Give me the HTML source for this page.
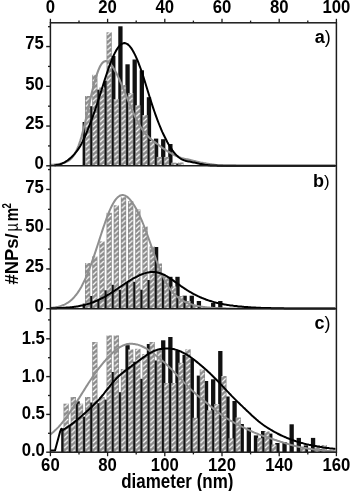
<!DOCTYPE html>
<html><head><meta charset="utf-8"><style>
html,body{margin:0;padding:0;background:#fff;}
svg{display:block;will-change:transform;}
</style></head><body>
<svg width="350" height="491" viewBox="0 0 350 491">
<rect width="350" height="491" fill="#fff"/>
<defs>
<pattern id="hatch" patternUnits="userSpaceOnUse" x="85.0" y="0" width="7.17" height="5.1">
<rect x="0" y="0" width="7.17" height="5.1" fill="#8c8c8c"/>
<line x1="0.8" y1="4.5" x2="4.5" y2="0.8" stroke="#fff" stroke-width="1.2"/>
</pattern>
<clipPath id="plot"><rect x="50.4" y="22.8" width="286.0" height="429.4"/></clipPath>
</defs>
<g clip-path="url(#plot)">
<rect x="82.60" y="122.0" width="4.3" height="43.8" fill="#111"/>
<rect x="89.73" y="106.2" width="4.3" height="59.6" fill="#111"/>
<rect x="96.87" y="89.7" width="4.3" height="76.1" fill="#111"/>
<rect x="104.00" y="80.7" width="4.3" height="85.1" fill="#111"/>
<rect x="111.14" y="56.0" width="4.3" height="109.8" fill="#111"/>
<rect x="118.27" y="26.3" width="4.3" height="139.5" fill="#111"/>
<rect x="125.41" y="64.3" width="4.3" height="101.5" fill="#111"/>
<rect x="132.54" y="59.5" width="4.3" height="106.3" fill="#111"/>
<rect x="139.68" y="70.3" width="4.3" height="95.5" fill="#111"/>
<rect x="146.81" y="97.2" width="4.3" height="68.6" fill="#111"/>
<rect x="153.95" y="138.6" width="4.3" height="27.2" fill="#111"/>
<rect x="161.08" y="139.2" width="4.3" height="26.6" fill="#111"/>
<rect x="168.22" y="144.0" width="4.3" height="21.8" fill="#111"/>
<rect x="175.35" y="163.5" width="4.3" height="2.3" fill="#111"/>
<rect x="85.00" y="96.0" width="5.3" height="69.8" fill="url(#hatch)"/>
<rect x="92.17" y="74.8" width="5.3" height="91.0" fill="url(#hatch)"/>
<rect x="99.34" y="87.5" width="5.3" height="78.3" fill="url(#hatch)"/>
<rect x="106.51" y="32.3" width="5.3" height="133.5" fill="url(#hatch)"/>
<rect x="113.68" y="99.0" width="5.3" height="66.8" fill="url(#hatch)"/>
<rect x="120.85" y="85.0" width="5.3" height="80.8" fill="url(#hatch)"/>
<rect x="128.02" y="93.0" width="5.3" height="72.8" fill="url(#hatch)"/>
<rect x="135.19" y="105.3" width="5.3" height="60.5" fill="url(#hatch)"/>
<rect x="142.36" y="115.0" width="5.3" height="50.8" fill="url(#hatch)"/>
<rect x="149.53" y="141.0" width="5.3" height="24.8" fill="url(#hatch)"/>
<rect x="156.70" y="156.9" width="5.3" height="8.9" fill="url(#hatch)"/>
<rect x="163.87" y="156.9" width="5.3" height="8.9" fill="url(#hatch)"/>
<rect x="171.04" y="162.7" width="5.3" height="3.1" fill="url(#hatch)"/>
<rect x="178.21" y="162.5" width="5.3" height="3.3" fill="url(#hatch)"/>
<rect x="82.60" y="303.6" width="4.3" height="5.1" fill="#111"/>
<rect x="89.73" y="296.0" width="4.3" height="12.7" fill="#111"/>
<rect x="96.87" y="300.7" width="4.3" height="8.0" fill="#111"/>
<rect x="104.00" y="290.3" width="4.3" height="18.4" fill="#111"/>
<rect x="111.14" y="284.8" width="4.3" height="23.9" fill="#111"/>
<rect x="118.27" y="289.7" width="4.3" height="19.0" fill="#111"/>
<rect x="125.41" y="282.4" width="4.3" height="26.3" fill="#111"/>
<rect x="132.54" y="281.8" width="4.3" height="26.9" fill="#111"/>
<rect x="139.68" y="289.7" width="4.3" height="19.0" fill="#111"/>
<rect x="146.81" y="280.0" width="4.3" height="28.7" fill="#111"/>
<rect x="153.95" y="247.0" width="4.3" height="61.7" fill="#111"/>
<rect x="161.08" y="276.8" width="4.3" height="31.9" fill="#111"/>
<rect x="168.22" y="276.8" width="4.3" height="31.9" fill="#111"/>
<rect x="175.35" y="276.8" width="4.3" height="31.9" fill="#111"/>
<rect x="182.49" y="295.7" width="4.3" height="13.0" fill="#111"/>
<rect x="189.62" y="295.7" width="4.3" height="13.0" fill="#111"/>
<rect x="196.76" y="301.0" width="4.3" height="7.7" fill="#111"/>
<rect x="211.03" y="303.0" width="4.3" height="5.7" fill="#111"/>
<rect x="218.16" y="301.0" width="4.3" height="7.7" fill="#111"/>
<rect x="85.00" y="263.0" width="5.3" height="45.7" fill="url(#hatch)"/>
<rect x="92.17" y="256.4" width="5.3" height="52.3" fill="url(#hatch)"/>
<rect x="99.34" y="241.4" width="5.3" height="67.3" fill="url(#hatch)"/>
<rect x="106.51" y="212.8" width="5.3" height="95.9" fill="url(#hatch)"/>
<rect x="113.68" y="205.3" width="5.3" height="103.4" fill="url(#hatch)"/>
<rect x="120.85" y="197.2" width="5.3" height="111.5" fill="url(#hatch)"/>
<rect x="128.02" y="201.2" width="5.3" height="107.5" fill="url(#hatch)"/>
<rect x="135.19" y="209.5" width="5.3" height="99.2" fill="url(#hatch)"/>
<rect x="142.36" y="226.5" width="5.3" height="82.2" fill="url(#hatch)"/>
<rect x="149.53" y="246.5" width="5.3" height="62.2" fill="url(#hatch)"/>
<rect x="156.70" y="263.5" width="5.3" height="45.2" fill="url(#hatch)"/>
<rect x="163.87" y="277.0" width="5.3" height="31.7" fill="url(#hatch)"/>
<rect x="171.04" y="286.5" width="5.3" height="22.2" fill="url(#hatch)"/>
<rect x="178.21" y="296.0" width="5.3" height="12.7" fill="url(#hatch)"/>
<rect x="185.38" y="301.0" width="5.3" height="7.7" fill="url(#hatch)"/>
<rect x="192.55" y="305.0" width="5.3" height="3.7" fill="url(#hatch)"/>
<rect x="61.19" y="428.3" width="4.3" height="23.9" fill="#111"/>
<rect x="68.33" y="425.0" width="4.3" height="27.2" fill="#111"/>
<rect x="75.46" y="401.3" width="4.3" height="50.9" fill="#111"/>
<rect x="82.60" y="416.6" width="4.3" height="35.6" fill="#111"/>
<rect x="89.73" y="402.5" width="4.3" height="49.7" fill="#111"/>
<rect x="96.87" y="403.2" width="4.3" height="49.0" fill="#111"/>
<rect x="104.00" y="399.6" width="4.3" height="52.6" fill="#111"/>
<rect x="111.14" y="372.0" width="4.3" height="80.2" fill="#111"/>
<rect x="118.27" y="392.2" width="4.3" height="60.0" fill="#111"/>
<rect x="125.41" y="345.2" width="4.3" height="107.0" fill="#111"/>
<rect x="132.54" y="361.7" width="4.3" height="90.5" fill="#111"/>
<rect x="139.68" y="378.8" width="4.3" height="73.4" fill="#111"/>
<rect x="146.81" y="344.0" width="4.3" height="108.2" fill="#111"/>
<rect x="153.95" y="360.5" width="4.3" height="91.7" fill="#111"/>
<rect x="161.08" y="340.3" width="4.3" height="111.9" fill="#111"/>
<rect x="168.22" y="337.0" width="4.3" height="115.2" fill="#111"/>
<rect x="175.35" y="350.6" width="4.3" height="101.6" fill="#111"/>
<rect x="182.49" y="354.8" width="4.3" height="97.4" fill="#111"/>
<rect x="189.62" y="358.5" width="4.3" height="93.7" fill="#111"/>
<rect x="196.76" y="375.6" width="4.3" height="76.6" fill="#111"/>
<rect x="203.89" y="381.0" width="4.3" height="71.2" fill="#111"/>
<rect x="211.03" y="379.3" width="4.3" height="72.9" fill="#111"/>
<rect x="218.16" y="351.0" width="4.3" height="101.2" fill="#111"/>
<rect x="225.30" y="396.5" width="4.3" height="55.7" fill="#111"/>
<rect x="232.44" y="401.0" width="4.3" height="51.2" fill="#111"/>
<rect x="239.57" y="424.0" width="4.3" height="28.2" fill="#111"/>
<rect x="246.70" y="427.6" width="4.3" height="24.6" fill="#111"/>
<rect x="253.84" y="435.4" width="4.3" height="16.8" fill="#111"/>
<rect x="260.98" y="431.0" width="4.3" height="21.2" fill="#111"/>
<rect x="268.11" y="433.6" width="4.3" height="18.6" fill="#111"/>
<rect x="275.25" y="443.0" width="4.3" height="9.2" fill="#111"/>
<rect x="282.38" y="442.0" width="4.3" height="10.2" fill="#111"/>
<rect x="289.51" y="424.3" width="4.3" height="27.9" fill="#111"/>
<rect x="296.65" y="437.9" width="4.3" height="14.3" fill="#111"/>
<rect x="303.78" y="445.4" width="4.3" height="6.8" fill="#111"/>
<rect x="310.92" y="437.9" width="4.3" height="14.3" fill="#111"/>
<rect x="318.05" y="449.0" width="4.3" height="3.2" fill="#111"/>
<rect x="63.49" y="403.7" width="5.3" height="48.5" fill="url(#hatch)"/>
<rect x="70.66" y="397.0" width="5.3" height="55.2" fill="url(#hatch)"/>
<rect x="77.83" y="403.7" width="5.3" height="48.5" fill="url(#hatch)"/>
<rect x="85.00" y="397.0" width="5.3" height="55.2" fill="url(#hatch)"/>
<rect x="92.17" y="342.0" width="5.3" height="110.2" fill="url(#hatch)"/>
<rect x="99.34" y="397.0" width="5.3" height="55.2" fill="url(#hatch)"/>
<rect x="106.51" y="335.4" width="5.3" height="116.8" fill="url(#hatch)"/>
<rect x="113.68" y="335.4" width="5.3" height="116.8" fill="url(#hatch)"/>
<rect x="120.85" y="369.0" width="5.3" height="83.2" fill="url(#hatch)"/>
<rect x="128.02" y="349.4" width="5.3" height="102.8" fill="url(#hatch)"/>
<rect x="135.19" y="348.8" width="5.3" height="103.4" fill="url(#hatch)"/>
<rect x="142.36" y="354.0" width="5.3" height="98.2" fill="url(#hatch)"/>
<rect x="149.53" y="342.0" width="5.3" height="110.2" fill="url(#hatch)"/>
<rect x="156.70" y="350.0" width="5.3" height="102.2" fill="url(#hatch)"/>
<rect x="163.87" y="383.0" width="5.3" height="69.2" fill="url(#hatch)"/>
<rect x="171.04" y="383.0" width="5.3" height="69.2" fill="url(#hatch)"/>
<rect x="178.21" y="362.8" width="5.3" height="89.4" fill="url(#hatch)"/>
<rect x="185.38" y="349.3" width="5.3" height="102.9" fill="url(#hatch)"/>
<rect x="192.55" y="417.8" width="5.3" height="34.4" fill="url(#hatch)"/>
<rect x="199.72" y="369.5" width="5.3" height="82.7" fill="url(#hatch)"/>
<rect x="206.89" y="410.2" width="5.3" height="42.0" fill="url(#hatch)"/>
<rect x="214.06" y="404.0" width="5.3" height="48.2" fill="url(#hatch)"/>
<rect x="221.23" y="376.0" width="5.3" height="76.2" fill="url(#hatch)"/>
<rect x="228.40" y="438.3" width="5.3" height="13.9" fill="url(#hatch)"/>
<rect x="235.57" y="417.5" width="5.3" height="34.7" fill="url(#hatch)"/>
<rect x="257.08" y="437.8" width="5.3" height="14.4" fill="url(#hatch)"/>
<rect x="264.25" y="431.4" width="5.3" height="20.8" fill="url(#hatch)"/>
<rect x="271.42" y="444.5" width="5.3" height="7.7" fill="url(#hatch)"/>
<rect x="300.10" y="448.0" width="5.3" height="4.2" fill="url(#hatch)"/>
<rect x="314.44" y="445.0" width="5.3" height="7.2" fill="url(#hatch)"/>
<rect x="321.61" y="445.0" width="5.3" height="7.2" fill="url(#hatch)"/>
<rect x="328.78" y="450.3" width="5.3" height="1.9" fill="url(#hatch)"/>
<path d="M50.4,165.0 L51.4,164.9 L52.4,164.8 L53.4,164.7 L54.4,164.6 L55.4,164.5 L56.4,164.4 L57.4,164.3 L58.4,164.2 L59.4,164.0 L60.4,163.8 L61.4,163.6 L62.4,163.3 L63.4,163.0 L64.4,162.7 L65.4,162.3 L66.4,161.9 L67.4,161.4 L68.4,160.8 L69.4,160.1 L70.4,159.3 L71.4,158.3 L72.4,157.2 L73.4,155.9 L74.4,154.4 L75.4,152.6 L76.4,150.7 L77.4,148.5 L78.4,146.1 L79.4,143.3 L80.4,140.3 L81.4,137.0 L82.4,133.4 L83.4,129.6 L84.4,125.5 L85.4,121.2 L86.4,116.8 L87.4,112.3 L88.4,107.8 L89.4,103.3 L90.4,98.9 L91.4,94.6 L92.4,90.4 L93.4,86.4 L94.4,82.6 L95.4,79.1 L96.4,75.8 L97.4,72.8 L98.4,70.2 L99.4,67.8 L100.4,65.8 L101.4,64.2 L102.4,62.9 L103.4,62.0 L104.4,61.4 L105.4,61.1 L106.4,61.1 L107.4,61.5 L108.4,62.0 L109.4,62.8 L110.4,63.8 L111.4,65.1 L112.4,66.4 L113.4,68.0 L114.4,69.7 L115.4,71.4 L116.4,73.3 L117.4,75.3 L118.4,77.4 L119.4,79.5 L120.4,81.8 L121.4,84.1 L122.4,86.4 L123.4,88.8 L124.4,91.2 L125.4,93.7 L126.4,96.2 L127.4,98.6 L128.4,101.1 L129.4,103.6 L130.4,106.0 L131.4,108.4 L132.4,110.7 L133.4,112.9 L134.4,115.1 L135.4,117.2 L136.4,119.3 L137.4,121.2 L138.4,123.1 L139.4,124.8 L140.4,126.5 L141.4,128.1 L142.4,129.6 L143.4,131.0 L144.4,132.3 L145.4,133.6 L146.4,134.7 L147.4,135.8 L148.4,136.8 L149.4,137.7 L150.4,138.6 L151.4,139.5 L152.4,140.3 L153.4,141.1 L154.4,141.8 L155.4,142.6 L156.4,143.3 L157.4,144.0 L158.4,144.8 L159.4,145.6 L160.4,146.3 L161.4,147.1 L162.4,147.8 L163.4,148.5 L164.4,149.2 L165.4,149.9 L166.4,150.5 L167.4,151.2 L168.4,151.8 L169.4,152.3 L170.4,152.9 L171.4,153.4 L172.4,154.0 L173.4,154.5 L174.4,155.0 L175.4,155.5 L176.4,156.0 L177.4,156.4 L178.4,156.9 L179.4,157.3 L180.4,157.6 L181.4,158.0 L182.4,158.3 L183.4,158.5 L184.4,158.8 L185.4,159.0 L186.4,159.2 L187.4,159.4 L188.4,159.6 L189.4,159.8 L190.4,160.0 L191.4,160.3 L192.4,160.5 L193.4,160.8 L194.4,161.0 L195.4,161.3 L196.4,161.6 L197.4,161.8 L198.4,162.0 L199.4,162.2 L200.4,162.5 L201.4,162.7 L202.4,162.9 L203.4,163.1 L204.4,163.2 L205.4,163.4 L206.4,163.6 L207.4,163.7 L208.4,163.9 L209.4,164.0 L210.4,164.2 L211.4,164.3 L212.4,164.5 L213.4,164.6 L214.4,164.7 L215.4,164.9 L216.4,165.0 L217.4,165.1 L218.4,165.2 L219.4,165.3 L220.4,165.3 L221.4,165.4 L222.4,165.4 L223.4,165.5 L224.4,165.5 L225.4,165.5 L226.4,165.6 L227.4,165.6 L228.4,165.6 L229.4,165.6 L230.4,165.6 L231.4,165.6 L232.4,165.6 L233.4,165.6 L234.4,165.6 L235.4,165.6 L236.4,165.7 L237.4,165.7 L238.4,165.7 L239.4,165.7 L240.4,165.7 L241.4,165.7 L242.4,165.7 L243.4,165.7 L244.4,165.7 L245.4,165.7 L246.4,165.7 L247.4,165.7 L248.4,165.7 L249.4,165.7 L250.4,165.7 L251.4,165.7 L252.4,165.7 L253.4,165.7 L254.4,165.7 L255.4,165.7 L256.4,165.7 L257.4,165.7 L258.4,165.7 L259.4,165.7 L260.4,165.7 L261.4,165.7 L262.4,165.7 L263.4,165.7 L264.4,165.7 L265.4,165.7 L266.4,165.7 L267.4,165.7 L268.4,165.7 L269.4,165.7 L270.4,165.7 L271.4,165.7 L272.4,165.7 L273.4,165.7 L274.4,165.7 L275.4,165.7 L276.4,165.7 L277.4,165.7 L278.4,165.7 L279.4,165.7 L280.4,165.7 L281.4,165.7 L282.4,165.7 L283.4,165.7 L284.4,165.7 L285.4,165.7 L286.4,165.7 L287.4,165.7 L288.4,165.7 L289.4,165.7 L290.4,165.7 L291.4,165.7 L292.4,165.7 L293.4,165.7 L294.4,165.7 L295.4,165.7 L296.4,165.7 L297.4,165.7 L298.4,165.7 L299.4,165.7 L300.4,165.7 L301.4,165.7 L302.4,165.7 L303.4,165.7 L304.4,165.7 L305.4,165.7 L306.4,165.7 L307.4,165.7 L308.4,165.7 L309.4,165.7 L310.4,165.7 L311.4,165.7 L312.4,165.7 L313.4,165.7 L314.4,165.7 L315.4,165.7 L316.4,165.7 L317.4,165.7 L318.4,165.7 L319.4,165.7 L320.4,165.7 L321.4,165.7 L322.4,165.7 L323.4,165.7 L324.4,165.7 L325.4,165.7 L326.4,165.7 L327.4,165.7 L328.4,165.7 L329.4,165.7 L330.4,165.7 L331.4,165.7 L332.4,165.7 L333.4,165.7 L334.4,165.7 L335.4,165.7" fill="none" stroke="#8f8f8f" stroke-width="2.1" stroke-linejoin="round"/>
<path d="M54.4,165.3 L55.4,165.2 L56.4,165.1 L57.4,165.0 L58.4,164.7 L59.4,164.5 L60.4,164.2 L61.4,163.8 L62.4,163.4 L63.4,162.9 L64.4,162.4 L65.4,161.8 L66.4,161.1 L67.4,160.5 L68.4,159.7 L69.4,158.9 L70.4,158.1 L71.4,157.2 L72.4,156.2 L73.4,155.2 L74.4,154.1 L75.4,152.9 L76.4,151.7 L77.4,150.4 L78.4,148.9 L79.4,147.4 L80.4,145.7 L81.4,143.9 L82.4,142.0 L83.4,139.9 L84.4,137.8 L85.4,135.5 L86.4,133.2 L87.4,130.7 L88.4,128.2 L89.4,125.7 L90.4,123.1 L91.4,120.4 L92.4,117.7 L93.4,114.9 L94.4,112.0 L95.4,109.1 L96.4,106.1 L97.4,103.0 L98.4,99.9 L99.4,96.8 L100.4,93.6 L101.4,90.4 L102.4,87.2 L103.4,84.0 L104.4,80.9 L105.4,77.8 L106.4,74.7 L107.4,71.7 L108.4,68.8 L109.4,66.0 L110.4,63.3 L111.4,60.8 L112.4,58.3 L113.4,56.0 L114.4,53.9 L115.4,51.9 L116.4,50.1 L117.4,48.5 L118.4,47.1 L119.4,45.9 L120.4,44.9 L121.4,44.1 L122.4,43.6 L123.4,43.3 L124.4,43.1 L125.4,43.3 L126.4,43.6 L127.4,44.1 L128.4,44.9 L129.4,45.9 L130.4,47.1 L131.4,48.4 L132.4,50.0 L133.4,51.7 L134.4,53.6 L135.4,55.6 L136.4,57.8 L137.4,60.2 L138.4,62.7 L139.4,65.3 L140.4,68.0 L141.4,70.9 L142.4,73.9 L143.4,76.9 L144.4,80.1 L145.4,83.2 L146.4,86.5 L147.4,89.7 L148.4,93.0 L149.4,96.2 L150.4,99.4 L151.4,102.5 L152.4,105.6 L153.4,108.6 L154.4,111.5 L155.4,114.4 L156.4,117.2 L157.4,119.9 L158.4,122.5 L159.4,125.0 L160.4,127.4 L161.4,129.8 L162.4,132.1 L163.4,134.2 L164.4,136.3 L165.4,138.3 L166.4,140.3 L167.4,142.2 L168.4,144.0 L169.4,145.7 L170.4,147.4 L171.4,148.9 L172.4,150.4 L173.4,151.7 L174.4,153.0 L175.4,154.1 L176.4,155.2 L177.4,156.1 L178.4,157.0 L179.4,157.8 L180.4,158.5 L181.4,159.1 L182.4,159.6 L183.4,160.0 L184.4,160.4 L185.4,160.7 L186.4,161.0 L187.4,161.2 L188.4,161.4 L189.4,161.6 L190.4,161.8 L191.4,162.0 L192.4,162.2 L193.4,162.4 L194.4,162.6 L195.4,162.8 L196.4,163.0 L197.4,163.2 L198.4,163.4 L199.4,163.7 L200.4,163.9 L201.4,164.1 L202.4,164.3 L203.4,164.5 L204.4,164.7 L205.4,164.9 L206.4,165.0 L207.4,165.1 L208.4,165.2 L209.4,165.3 L210.4,165.4 L211.4,165.5 L212.4,165.5 L213.4,165.6 L214.4,165.6 L215.4,165.6 L216.4,165.6 L217.4,165.7 L218.4,165.7 L219.4,165.7 L220.4,165.7 L221.4,165.7 L222.4,165.7 L223.4,165.7 L224.4,165.7 L225.4,165.7 L226.4,165.7 L227.4,165.7 L228.4,165.7 L229.4,165.7 L230.4,165.7 L231.4,165.7 L232.4,165.7 L233.4,165.7 L234.4,165.7 L235.4,165.7 L236.4,165.7 L237.4,165.7 L238.4,165.7 L239.4,165.7 L240.4,165.7 L241.4,165.7 L242.4,165.7 L243.4,165.7 L244.4,165.7 L245.4,165.7 L246.4,165.7 L247.4,165.7 L248.4,165.7 L249.4,165.7 L250.4,165.7 L251.4,165.7 L252.4,165.7 L253.4,165.7 L254.4,165.7 L255.4,165.7 L256.4,165.7 L257.4,165.7 L258.4,165.7 L259.4,165.7 L260.4,165.7 L261.4,165.7 L262.4,165.7 L263.4,165.7 L264.4,165.7 L265.4,165.7 L266.4,165.7 L267.4,165.7 L268.4,165.7 L269.4,165.7 L270.4,165.7 L271.4,165.7 L272.4,165.7 L273.4,165.7 L274.4,165.7 L275.4,165.7 L276.4,165.7 L277.4,165.7 L278.4,165.7 L279.4,165.7 L280.4,165.7 L281.4,165.7 L282.4,165.7 L283.4,165.7 L284.4,165.7 L285.4,165.7 L286.4,165.7 L287.4,165.7 L288.4,165.7 L289.4,165.7 L290.4,165.7 L291.4,165.7 L292.4,165.7 L293.4,165.7 L294.4,165.7 L295.4,165.7 L296.4,165.7 L297.4,165.7 L298.4,165.7 L299.4,165.7 L300.4,165.7 L301.4,165.7 L302.4,165.7 L303.4,165.7 L304.4,165.7 L305.4,165.7 L306.4,165.7 L307.4,165.7 L308.4,165.7 L309.4,165.7 L310.4,165.7 L311.4,165.7 L312.4,165.7 L313.4,165.7 L314.4,165.7 L315.4,165.7 L316.4,165.7 L317.4,165.7 L318.4,165.7 L319.4,165.7 L320.4,165.7 L321.4,165.7 L322.4,165.7 L323.4,165.7 L324.4,165.7 L325.4,165.7 L326.4,165.7 L327.4,165.7 L328.4,165.7 L329.4,165.7 L330.4,165.7 L331.4,165.7 L332.4,165.7 L333.4,165.7 L334.4,165.7 L335.4,165.7" fill="none" stroke="#000" stroke-width="2.0" stroke-linejoin="round"/>
<path d="M50.4,307.9 L51.4,307.8 L52.4,307.7 L53.4,307.6 L54.4,307.4 L55.4,307.3 L56.4,307.1 L57.4,306.9 L58.4,306.7 L59.4,306.4 L60.4,306.1 L61.4,305.8 L62.4,305.4 L63.4,305.0 L64.4,304.6 L65.4,304.1 L66.4,303.5 L67.4,302.9 L68.4,302.3 L69.4,301.6 L70.4,300.8 L71.4,299.9 L72.4,299.0 L73.4,298.0 L74.4,296.9 L75.4,295.7 L76.4,294.5 L77.4,293.1 L78.4,291.6 L79.4,290.1 L80.4,288.4 L81.4,286.7 L82.4,284.8 L83.4,282.8 L84.4,280.8 L85.4,278.6 L86.4,276.3 L87.4,273.9 L88.4,271.5 L89.4,268.9 L90.4,266.2 L91.4,263.5 L92.4,260.7 L93.4,257.8 L94.4,254.9 L95.4,251.9 L96.4,248.9 L97.4,245.8 L98.4,242.7 L99.4,239.6 L100.4,236.5 L101.4,233.5 L102.4,230.4 L103.4,227.4 L104.4,224.5 L105.4,221.7 L106.4,218.9 L107.4,216.2 L108.4,213.7 L109.4,211.2 L110.4,208.9 L111.4,206.8 L112.4,204.8 L113.4,203.0 L114.4,201.4 L115.4,199.9 L116.4,198.6 L117.4,197.6 L118.4,196.7 L119.4,196.0 L120.4,195.5 L121.4,195.2 L122.4,195.1 L123.4,195.1 L124.4,195.4 L125.4,195.8 L126.4,196.3 L127.4,197.1 L128.4,197.9 L129.4,198.9 L130.4,200.1 L131.4,201.4 L132.4,202.7 L133.4,204.2 L134.4,205.8 L135.4,207.5 L136.4,209.3 L137.4,211.2 L138.4,213.2 L139.4,215.3 L140.4,217.4 L141.4,219.7 L142.4,222.0 L143.4,224.5 L144.4,227.0 L145.4,229.6 L146.4,232.2 L147.4,235.0 L148.4,237.8 L149.4,240.6 L150.4,243.4 L151.4,246.3 L152.4,249.2 L153.4,252.1 L154.4,254.9 L155.4,257.7 L156.4,260.5 L157.4,263.2 L158.4,265.8 L159.4,268.4 L160.4,270.9 L161.4,273.2 L162.4,275.5 L163.4,277.6 L164.4,279.6 L165.4,281.6 L166.4,283.4 L167.4,285.1 L168.4,286.7 L169.4,288.2 L170.4,289.5 L171.4,290.8 L172.4,292.0 L173.4,293.2 L174.4,294.2 L175.4,295.2 L176.4,296.1 L177.4,296.9 L178.4,297.7 L179.4,298.5 L180.4,299.2 L181.4,299.8 L182.4,300.4 L183.4,300.9 L184.4,301.5 L185.4,302.0 L186.4,302.4 L187.4,302.9 L188.4,303.3 L189.4,303.6 L190.4,304.0 L191.4,304.3 L192.4,304.6 L193.4,304.9 L194.4,305.2 L195.4,305.5 L196.4,305.7 L197.4,305.9 L198.4,306.1 L199.4,306.3 L200.4,306.5 L201.4,306.7 L202.4,306.8 L203.4,307.0 L204.4,307.1 L205.4,307.2 L206.4,307.3 L207.4,307.4 L208.4,307.5 L209.4,307.6 L210.4,307.7 L211.4,307.8 L212.4,307.8 L213.4,307.9 L214.4,308.0 L215.4,308.0 L216.4,308.1 L217.4,308.1 L218.4,308.2 L219.4,308.2 L220.4,308.2 L221.4,308.3 L222.4,308.3 L223.4,308.3 L224.4,308.3 L225.4,308.3 L226.4,308.4 L227.4,308.4 L228.4,308.4 L229.4,308.4 L230.4,308.4 L231.4,308.4 L232.4,308.4 L233.4,308.4 L234.4,308.5 L235.4,308.5 L236.4,308.5 L237.4,308.5 L238.4,308.5 L239.4,308.5 L240.4,308.5 L241.4,308.5 L242.4,308.5 L243.4,308.5 L244.4,308.5 L245.4,308.5 L246.4,308.5 L247.4,308.5 L248.4,308.5 L249.4,308.5 L250.4,308.5 L251.4,308.5 L252.4,308.5 L253.4,308.5 L254.4,308.5 L255.4,308.5 L256.4,308.5 L257.4,308.5 L258.4,308.5 L259.4,308.5 L260.4,308.5 L261.4,308.5 L262.4,308.5 L263.4,308.5 L264.4,308.5 L265.4,308.5 L266.4,308.5 L267.4,308.5 L268.4,308.5 L269.4,308.5 L270.4,308.5 L271.4,308.5 L272.4,308.5 L273.4,308.5 L274.4,308.5 L275.4,308.5 L276.4,308.5 L277.4,308.5 L278.4,308.5 L279.4,308.5 L280.4,308.5 L281.4,308.5 L282.4,308.5 L283.4,308.5 L284.4,308.5 L285.4,308.5 L286.4,308.5 L287.4,308.5 L288.4,308.5 L289.4,308.5 L290.4,308.5 L291.4,308.5 L292.4,308.5 L293.4,308.5 L294.4,308.5 L295.4,308.5 L296.4,308.5 L297.4,308.5 L298.4,308.5 L299.4,308.5 L300.4,308.5 L301.4,308.5 L302.4,308.5 L303.4,308.5 L304.4,308.5 L305.4,308.5 L306.4,308.5 L307.4,308.5 L308.4,308.5 L309.4,308.5 L310.4,308.5 L311.4,308.5 L312.4,308.5 L313.4,308.5 L314.4,308.5 L315.4,308.5 L316.4,308.5 L317.4,308.5 L318.4,308.5 L319.4,308.5 L320.4,308.5 L321.4,308.5 L322.4,308.5 L323.4,308.5 L324.4,308.5 L325.4,308.5 L326.4,308.5 L327.4,308.5 L328.4,308.5 L329.4,308.5 L330.4,308.5 L331.4,308.5 L332.4,308.5 L333.4,308.5 L334.4,308.5 L335.4,308.5" fill="none" stroke="#8f8f8f" stroke-width="2.0" stroke-linejoin="round"/>
<path d="M50.4,308.3 L51.4,308.3 L52.4,308.3 L53.4,308.3 L54.4,308.2 L55.4,308.2 L56.4,308.2 L57.4,308.1 L58.4,308.1 L59.4,308.0 L60.4,308.0 L61.4,308.0 L62.4,307.9 L63.4,307.8 L64.4,307.8 L65.4,307.7 L66.4,307.6 L67.4,307.6 L68.4,307.5 L69.4,307.4 L70.4,307.3 L71.4,307.2 L72.4,307.1 L73.4,306.9 L74.4,306.8 L75.4,306.7 L76.4,306.5 L77.4,306.4 L78.4,306.2 L79.4,306.0 L80.4,305.8 L81.4,305.6 L82.4,305.4 L83.4,305.2 L84.4,304.9 L85.4,304.7 L86.4,304.4 L87.4,304.1 L88.4,303.8 L89.4,303.5 L90.4,303.2 L91.4,302.8 L92.4,302.5 L93.4,302.1 L94.4,301.7 L95.4,301.3 L96.4,300.9 L97.4,300.5 L98.4,300.0 L99.4,299.5 L100.4,299.0 L101.4,298.5 L102.4,298.0 L103.4,297.5 L104.4,296.9 L105.4,296.4 L106.4,295.8 L107.4,295.2 L108.4,294.6 L109.4,294.0 L110.4,293.4 L111.4,292.7 L112.4,292.1 L113.4,291.4 L114.4,290.8 L115.4,290.1 L116.4,289.4 L117.4,288.8 L118.4,288.1 L119.4,287.4 L120.4,286.7 L121.4,286.1 L122.4,285.4 L123.4,284.7 L124.4,284.0 L125.4,283.4 L126.4,282.7 L127.4,282.1 L128.4,281.4 L129.4,280.8 L130.4,280.2 L131.4,279.6 L132.4,279.0 L133.4,278.4 L134.4,277.8 L135.4,277.3 L136.4,276.8 L137.4,276.3 L138.4,275.8 L139.4,275.3 L140.4,274.9 L141.4,274.5 L142.4,274.1 L143.4,273.7 L144.4,273.4 L145.4,273.1 L146.4,272.8 L147.4,272.6 L148.4,272.4 L149.4,272.2 L150.4,272.1 L151.4,272.0 L152.4,272.0 L153.4,272.0 L154.4,272.0 L155.4,272.1 L156.4,272.3 L157.4,272.5 L158.4,272.7 L159.4,273.0 L160.4,273.3 L161.4,273.7 L162.4,274.1 L163.4,274.5 L164.4,275.0 L165.4,275.5 L166.4,276.1 L167.4,276.7 L168.4,277.3 L169.4,277.9 L170.4,278.6 L171.4,279.3 L172.4,279.9 L173.4,280.6 L174.4,281.4 L175.4,282.1 L176.4,282.8 L177.4,283.5 L178.4,284.2 L179.4,284.9 L180.4,285.7 L181.4,286.4 L182.4,287.1 L183.4,287.7 L184.4,288.4 L185.4,289.1 L186.4,289.7 L187.4,290.4 L188.4,291.0 L189.4,291.6 L190.4,292.2 L191.4,292.7 L192.4,293.3 L193.4,293.9 L194.4,294.4 L195.4,294.9 L196.4,295.4 L197.4,295.9 L198.4,296.4 L199.4,296.8 L200.4,297.3 L201.4,297.7 L202.4,298.1 L203.4,298.5 L204.4,298.9 L205.4,299.3 L206.4,299.7 L207.4,300.0 L208.4,300.4 L209.4,300.7 L210.4,301.0 L211.4,301.3 L212.4,301.6 L213.4,301.9 L214.4,302.2 L215.4,302.4 L216.4,302.7 L217.4,302.9 L218.4,303.2 L219.4,303.4 L220.4,303.6 L221.4,303.8 L222.4,304.0 L223.4,304.2 L224.4,304.4 L225.4,304.6 L226.4,304.7 L227.4,304.9 L228.4,305.1 L229.4,305.2 L230.4,305.4 L231.4,305.5 L232.4,305.6 L233.4,305.8 L234.4,305.9 L235.4,306.0 L236.4,306.1 L237.4,306.2 L238.4,306.4 L239.4,306.5 L240.4,306.6 L241.4,306.6 L242.4,306.7 L243.4,306.8 L244.4,306.9 L245.4,307.0 L246.4,307.1 L247.4,307.1 L248.4,307.2 L249.4,307.3 L250.4,307.3 L251.4,307.4 L252.4,307.4 L253.4,307.5 L254.4,307.6 L255.4,307.6 L256.4,307.7 L257.4,307.7 L258.4,307.7 L259.4,307.8 L260.4,307.8 L261.4,307.9 L262.4,307.9 L263.4,307.9 L264.4,308.0 L265.4,308.0 L266.4,308.0 L267.4,308.1 L268.4,308.1 L269.4,308.1 L270.4,308.1 L271.4,308.2 L272.4,308.2 L273.4,308.2 L274.4,308.2 L275.4,308.2 L276.4,308.3 L277.4,308.3 L278.4,308.3 L279.4,308.3 L280.4,308.3 L281.4,308.3 L282.4,308.3 L283.4,308.3 L284.4,308.4 L285.4,308.4 L286.4,308.4 L287.4,308.4 L288.4,308.4 L289.4,308.4 L290.4,308.4 L291.4,308.4 L292.4,308.4 L293.4,308.4 L294.4,308.4 L295.4,308.4 L296.4,308.4 L297.4,308.4 L298.4,308.5 L299.4,308.5 L300.4,308.5 L301.4,308.5 L302.4,308.5 L303.4,308.5 L304.4,308.5 L305.4,308.5 L306.4,308.5 L307.4,308.5 L308.4,308.5 L309.4,308.5 L310.4,308.5 L311.4,308.5 L312.4,308.5 L313.4,308.5 L314.4,308.5 L315.4,308.5 L316.4,308.5 L317.4,308.5 L318.4,308.5 L319.4,308.5 L320.4,308.5 L321.4,308.5 L322.4,308.5 L323.4,308.5 L324.4,308.5 L325.4,308.5 L326.4,308.5 L327.4,308.5 L328.4,308.5 L329.4,308.5 L330.4,308.5 L331.4,308.5 L332.4,308.5 L333.4,308.5 L334.4,308.5 L335.4,308.5" fill="none" stroke="#000" stroke-width="2.0" stroke-linejoin="round"/>
<path d="M50.4,434.5 L51.4,433.6 L52.4,432.8 L53.4,431.9 L54.4,431.0 L55.4,430.1 L56.4,429.1 L57.4,428.1 L58.4,427.1 L59.4,426.0 L60.4,424.8 L61.4,423.7 L62.4,422.5 L63.4,421.2 L64.4,419.9 L65.4,418.6 L66.4,417.2 L67.4,415.8 L68.4,414.4 L69.4,413.0 L70.4,411.5 L71.4,410.0 L72.4,408.5 L73.4,407.0 L74.4,405.4 L75.4,403.9 L76.4,402.3 L77.4,400.7 L78.4,399.1 L79.4,397.6 L80.4,396.0 L81.4,394.4 L82.4,392.8 L83.4,391.2 L84.4,389.6 L85.4,388.0 L86.4,386.4 L87.4,384.9 L88.4,383.3 L89.4,381.7 L90.4,380.2 L91.4,378.7 L92.4,377.2 L93.4,375.8 L94.4,374.3 L95.4,372.9 L96.4,371.6 L97.4,370.2 L98.4,368.9 L99.4,367.6 L100.4,366.4 L101.4,365.1 L102.4,363.9 L103.4,362.7 L104.4,361.5 L105.4,360.4 L106.4,359.2 L107.4,358.1 L108.4,357.0 L109.4,356.0 L110.4,355.0 L111.4,354.0 L112.4,353.0 L113.4,352.1 L114.4,351.2 L115.4,350.3 L116.4,349.5 L117.4,348.8 L118.4,348.1 L119.4,347.4 L120.4,346.8 L121.4,346.3 L122.4,345.8 L123.4,345.4 L124.4,345.0 L125.4,344.6 L126.4,344.3 L127.4,344.1 L128.4,344.0 L129.4,343.8 L130.4,343.8 L131.4,343.8 L132.4,343.8 L133.4,343.9 L134.4,344.0 L135.4,344.2 L136.4,344.4 L137.4,344.6 L138.4,344.9 L139.4,345.3 L140.4,345.6 L141.4,346.0 L142.4,346.5 L143.4,347.0 L144.4,347.5 L145.4,348.0 L146.4,348.6 L147.4,349.2 L148.4,349.9 L149.4,350.6 L150.4,351.3 L151.4,352.0 L152.4,352.7 L153.4,353.5 L154.4,354.3 L155.4,355.1 L156.4,355.9 L157.4,356.7 L158.4,357.5 L159.4,358.3 L160.4,359.2 L161.4,360.0 L162.4,360.9 L163.4,361.7 L164.4,362.6 L165.4,363.5 L166.4,364.4 L167.4,365.3 L168.4,366.2 L169.4,367.2 L170.4,368.2 L171.4,369.1 L172.4,370.2 L173.4,371.2 L174.4,372.2 L175.4,373.3 L176.4,374.4 L177.4,375.4 L178.4,376.5 L179.4,377.6 L180.4,378.6 L181.4,379.7 L182.4,380.8 L183.4,381.8 L184.4,382.9 L185.4,383.9 L186.4,384.9 L187.4,386.0 L188.4,387.0 L189.4,387.9 L190.4,388.9 L191.4,389.9 L192.4,390.8 L193.4,391.7 L194.4,392.6 L195.4,393.5 L196.4,394.4 L197.4,395.3 L198.4,396.1 L199.4,396.9 L200.4,397.8 L201.4,398.6 L202.4,399.4 L203.4,400.3 L204.4,401.1 L205.4,401.9 L206.4,402.7 L207.4,403.6 L208.4,404.4 L209.4,405.2 L210.4,406.1 L211.4,406.9 L212.4,407.7 L213.4,408.6 L214.4,409.4 L215.4,410.2 L216.4,411.0 L217.4,411.8 L218.4,412.6 L219.4,413.3 L220.4,414.1 L221.4,414.8 L222.4,415.5 L223.4,416.2 L224.4,416.9 L225.4,417.6 L226.4,418.2 L227.4,418.8 L228.4,419.4 L229.4,420.0 L230.4,420.6 L231.4,421.2 L232.4,421.7 L233.4,422.2 L234.4,422.8 L235.4,423.3 L236.4,423.8 L237.4,424.4 L238.4,424.9 L239.4,425.4 L240.4,425.9 L241.4,426.4 L242.4,426.9 L243.4,427.4 L244.4,427.9 L245.4,428.4 L246.4,428.9 L247.4,429.3 L248.4,429.8 L249.4,430.3 L250.4,430.8 L251.4,431.2 L252.4,431.7 L253.4,432.1 L254.4,432.6 L255.4,433.0 L256.4,433.4 L257.4,433.8 L258.4,434.2 L259.4,434.6 L260.4,434.9 L261.4,435.3 L262.4,435.6 L263.4,436.0 L264.4,436.3 L265.4,436.6 L266.4,437.0 L267.4,437.3 L268.4,437.6 L269.4,438.0 L270.4,438.3 L271.4,438.6 L272.4,439.0 L273.4,439.3 L274.4,439.7 L275.4,440.0 L276.4,440.3 L277.4,440.7 L278.4,441.0 L279.4,441.3 L280.4,441.7 L281.4,442.0 L282.4,442.3 L283.4,442.6 L284.4,442.9 L285.4,443.2 L286.4,443.5 L287.4,443.8 L288.4,444.1 L289.4,444.4 L290.4,444.7 L291.4,445.0 L292.4,445.2 L293.4,445.5 L294.4,445.7 L295.4,446.0 L296.4,446.2 L297.4,446.5 L298.4,446.7 L299.4,446.9 L300.4,447.2 L301.4,447.4 L302.4,447.6 L303.4,447.8 L304.4,448.0 L305.4,448.1 L306.4,448.3 L307.4,448.5 L308.4,448.7 L309.4,448.8 L310.4,449.0 L311.4,449.1 L312.4,449.3 L313.4,449.4 L314.4,449.6 L315.4,449.7 L316.4,449.8 L317.4,449.9 L318.4,450.1 L319.4,450.2 L320.4,450.3 L321.4,450.4 L322.4,450.5 L323.4,450.6 L324.4,450.6 L325.4,450.7 L326.4,450.8 L327.4,450.9 L328.4,451.0 L329.4,451.0 L330.4,451.1 L331.4,451.2 L332.4,451.2 L333.4,451.3 L334.4,451.3 L335.4,451.4" fill="none" stroke="#8f8f8f" stroke-width="2.0" stroke-linejoin="round"/>
<path d="M50.4,450.6 L55.0,450.6 L60.0,432.0 L61.3,428.8 L62.4,430.3 L63.4,429.7 L64.4,429.1 L65.4,428.5 L66.4,427.8 L67.4,427.2 L68.4,426.5 L69.4,425.8 L70.4,425.1 L71.4,424.4 L72.4,423.6 L73.4,422.9 L74.4,422.1 L75.4,421.3 L76.4,420.5 L77.4,419.6 L78.4,418.8 L79.4,417.9 L80.4,417.1 L81.4,416.2 L82.4,415.3 L83.4,414.4 L84.4,413.6 L85.4,412.7 L86.4,411.8 L87.4,410.8 L88.4,409.9 L89.4,409.0 L90.4,408.1 L91.4,407.2 L92.4,406.2 L93.4,405.3 L94.4,404.3 L95.4,403.3 L96.4,402.3 L97.4,401.3 L98.4,400.2 L99.4,399.1 L100.4,397.9 L101.4,396.7 L102.4,395.5 L103.4,394.3 L104.4,393.0 L105.4,391.7 L106.4,390.4 L107.4,389.1 L108.4,387.8 L109.4,386.6 L110.4,385.3 L111.4,384.1 L112.4,382.9 L113.4,381.8 L114.4,380.6 L115.4,379.6 L116.4,378.5 L117.4,377.5 L118.4,376.5 L119.4,375.6 L120.4,374.7 L121.4,373.8 L122.4,373.0 L123.4,372.2 L124.4,371.4 L125.4,370.6 L126.4,369.9 L127.4,369.1 L128.4,368.4 L129.4,367.6 L130.4,366.9 L131.4,366.2 L132.4,365.4 L133.4,364.7 L134.4,364.0 L135.4,363.2 L136.4,362.5 L137.4,361.8 L138.4,361.0 L139.4,360.3 L140.4,359.6 L141.4,358.8 L142.4,358.1 L143.4,357.4 L144.4,356.7 L145.4,356.0 L146.4,355.3 L147.4,354.6 L148.4,354.0 L149.4,353.4 L150.4,352.8 L151.4,352.3 L152.4,351.8 L153.4,351.3 L154.4,350.9 L155.4,350.5 L156.4,350.1 L157.4,349.8 L158.4,349.5 L159.4,349.3 L160.4,349.1 L161.4,348.9 L162.4,348.7 L163.4,348.6 L164.4,348.5 L165.4,348.4 L166.4,348.4 L167.4,348.4 L168.4,348.4 L169.4,348.5 L170.4,348.6 L171.4,348.7 L172.4,348.9 L173.4,349.1 L174.4,349.3 L175.4,349.6 L176.4,349.9 L177.4,350.2 L178.4,350.6 L179.4,351.0 L180.4,351.4 L181.4,351.8 L182.4,352.3 L183.4,352.8 L184.4,353.3 L185.4,353.9 L186.4,354.4 L187.4,355.1 L188.4,355.7 L189.4,356.3 L190.4,357.0 L191.4,357.7 L192.4,358.5 L193.4,359.2 L194.4,360.0 L195.4,360.8 L196.4,361.6 L197.4,362.4 L198.4,363.2 L199.4,364.0 L200.4,364.9 L201.4,365.7 L202.4,366.6 L203.4,367.4 L204.4,368.3 L205.4,369.2 L206.4,370.1 L207.4,371.0 L208.4,371.9 L209.4,372.8 L210.4,373.8 L211.4,374.7 L212.4,375.7 L213.4,376.7 L214.4,377.7 L215.4,378.7 L216.4,379.7 L217.4,380.7 L218.4,381.8 L219.4,382.8 L220.4,383.9 L221.4,384.9 L222.4,386.0 L223.4,387.1 L224.4,388.2 L225.4,389.2 L226.4,390.3 L227.4,391.4 L228.4,392.4 L229.4,393.5 L230.4,394.5 L231.4,395.6 L232.4,396.6 L233.4,397.6 L234.4,398.6 L235.4,399.6 L236.4,400.6 L237.4,401.6 L238.4,402.6 L239.4,403.5 L240.4,404.5 L241.4,405.4 L242.4,406.4 L243.4,407.4 L244.4,408.3 L245.4,409.3 L246.4,410.2 L247.4,411.2 L248.4,412.1 L249.4,413.1 L250.4,414.0 L251.4,415.0 L252.4,415.9 L253.4,416.8 L254.4,417.7 L255.4,418.6 L256.4,419.5 L257.4,420.3 L258.4,421.2 L259.4,422.0 L260.4,422.8 L261.4,423.5 L262.4,424.3 L263.4,425.0 L264.4,425.7 L265.4,426.4 L266.4,427.0 L267.4,427.7 L268.4,428.3 L269.4,428.9 L270.4,429.5 L271.4,430.1 L272.4,430.7 L273.4,431.3 L274.4,431.9 L275.4,432.4 L276.4,432.9 L277.4,433.5 L278.4,434.0 L279.4,434.5 L280.4,435.0 L281.4,435.5 L282.4,435.9 L283.4,436.4 L284.4,436.8 L285.4,437.2 L286.4,437.7 L287.4,438.1 L288.4,438.5 L289.4,438.9 L290.4,439.3 L291.4,439.6 L292.4,440.0 L293.4,440.3 L294.4,440.7 L295.4,441.0 L296.4,441.4 L297.4,441.7 L298.4,442.0 L299.4,442.3 L300.4,442.6 L301.4,442.9 L302.4,443.1 L303.4,443.4 L304.4,443.7 L305.4,443.9 L306.4,444.2 L307.4,444.4 L308.4,444.6 L309.4,444.9 L310.4,445.1 L311.4,445.3 L312.4,445.5 L313.4,445.7 L314.4,445.9 L315.4,446.1 L316.4,446.3 L317.4,446.5 L318.4,446.6 L319.4,446.8 L320.4,447.0 L321.4,447.1 L322.4,447.3 L323.4,447.4 L324.4,447.6 L325.4,447.7 L326.4,447.9 L327.4,448.0 L328.4,448.1 L329.4,448.3 L330.4,448.4 L331.4,448.5 L332.4,448.6 L333.4,448.7 L334.4,448.8 L335.4,448.9" fill="none" stroke="#000" stroke-width="2.0" stroke-linejoin="round"/>
</g>
<rect x="50.4" y="22.8" width="286.0" height="429.4" fill="none" stroke="#1c1c1c" stroke-width="1.5"/>
<line x1="50.4" y1="165.8" x2="336.4" y2="165.8" stroke="#1c1c1c" stroke-width="1.5"/>
<line x1="50.4" y1="308.7" x2="336.4" y2="308.7" stroke="#1c1c1c" stroke-width="1.5"/>
<line x1="50.40" y1="22.8" x2="50.40" y2="18.8" stroke="#1c1c1c" stroke-width="1.3"/>
<line x1="50.40" y1="452.2" x2="50.40" y2="456.2" stroke="#1c1c1c" stroke-width="1.3"/>
<line x1="79.00" y1="22.8" x2="79.00" y2="20.6" stroke="#1c1c1c" stroke-width="1.3"/>
<line x1="79.00" y1="452.2" x2="79.00" y2="454.4" stroke="#1c1c1c" stroke-width="1.3"/>
<line x1="107.60" y1="22.8" x2="107.60" y2="18.8" stroke="#1c1c1c" stroke-width="1.3"/>
<line x1="107.60" y1="452.2" x2="107.60" y2="456.2" stroke="#1c1c1c" stroke-width="1.3"/>
<line x1="136.20" y1="22.8" x2="136.20" y2="20.6" stroke="#1c1c1c" stroke-width="1.3"/>
<line x1="136.20" y1="452.2" x2="136.20" y2="454.4" stroke="#1c1c1c" stroke-width="1.3"/>
<line x1="164.80" y1="22.8" x2="164.80" y2="18.8" stroke="#1c1c1c" stroke-width="1.3"/>
<line x1="164.80" y1="452.2" x2="164.80" y2="456.2" stroke="#1c1c1c" stroke-width="1.3"/>
<line x1="193.40" y1="22.8" x2="193.40" y2="20.6" stroke="#1c1c1c" stroke-width="1.3"/>
<line x1="193.40" y1="452.2" x2="193.40" y2="454.4" stroke="#1c1c1c" stroke-width="1.3"/>
<line x1="222.00" y1="22.8" x2="222.00" y2="18.8" stroke="#1c1c1c" stroke-width="1.3"/>
<line x1="222.00" y1="452.2" x2="222.00" y2="456.2" stroke="#1c1c1c" stroke-width="1.3"/>
<line x1="250.60" y1="22.8" x2="250.60" y2="20.6" stroke="#1c1c1c" stroke-width="1.3"/>
<line x1="250.60" y1="452.2" x2="250.60" y2="454.4" stroke="#1c1c1c" stroke-width="1.3"/>
<line x1="279.20" y1="22.8" x2="279.20" y2="18.8" stroke="#1c1c1c" stroke-width="1.3"/>
<line x1="279.20" y1="452.2" x2="279.20" y2="456.2" stroke="#1c1c1c" stroke-width="1.3"/>
<line x1="307.80" y1="22.8" x2="307.80" y2="20.6" stroke="#1c1c1c" stroke-width="1.3"/>
<line x1="307.80" y1="452.2" x2="307.80" y2="454.4" stroke="#1c1c1c" stroke-width="1.3"/>
<line x1="336.40" y1="22.8" x2="336.40" y2="18.8" stroke="#1c1c1c" stroke-width="1.3"/>
<line x1="336.40" y1="452.2" x2="336.40" y2="456.2" stroke="#1c1c1c" stroke-width="1.3"/>
<line x1="50.4" y1="165.80" x2="46.199999999999996" y2="165.80" stroke="#1c1c1c" stroke-width="1.4"/>
<line x1="50.4" y1="126.05" x2="46.199999999999996" y2="126.05" stroke="#1c1c1c" stroke-width="1.4"/>
<line x1="50.4" y1="86.30" x2="46.199999999999996" y2="86.30" stroke="#1c1c1c" stroke-width="1.4"/>
<line x1="50.4" y1="46.55" x2="46.199999999999996" y2="46.55" stroke="#1c1c1c" stroke-width="1.4"/>
<line x1="50.4" y1="145.93" x2="48.0" y2="145.93" stroke="#1c1c1c" stroke-width="1.3"/>
<line x1="50.4" y1="106.18" x2="48.0" y2="106.18" stroke="#1c1c1c" stroke-width="1.3"/>
<line x1="50.4" y1="66.43" x2="48.0" y2="66.43" stroke="#1c1c1c" stroke-width="1.3"/>
<line x1="50.4" y1="26.68" x2="48.0" y2="26.68" stroke="#1c1c1c" stroke-width="1.3"/>
<line x1="50.4" y1="308.70" x2="46.199999999999996" y2="308.70" stroke="#1c1c1c" stroke-width="1.4"/>
<line x1="50.4" y1="268.95" x2="46.199999999999996" y2="268.95" stroke="#1c1c1c" stroke-width="1.4"/>
<line x1="50.4" y1="229.20" x2="46.199999999999996" y2="229.20" stroke="#1c1c1c" stroke-width="1.4"/>
<line x1="50.4" y1="189.45" x2="46.199999999999996" y2="189.45" stroke="#1c1c1c" stroke-width="1.4"/>
<line x1="50.4" y1="288.82" x2="48.0" y2="288.82" stroke="#1c1c1c" stroke-width="1.3"/>
<line x1="50.4" y1="249.07" x2="48.0" y2="249.07" stroke="#1c1c1c" stroke-width="1.3"/>
<line x1="50.4" y1="209.32" x2="48.0" y2="209.32" stroke="#1c1c1c" stroke-width="1.3"/>
<line x1="50.4" y1="169.57" x2="48.0" y2="169.57" stroke="#1c1c1c" stroke-width="1.3"/>
<line x1="50.4" y1="452.20" x2="46.199999999999996" y2="452.20" stroke="#1c1c1c" stroke-width="1.4"/>
<line x1="50.4" y1="414.40" x2="46.199999999999996" y2="414.40" stroke="#1c1c1c" stroke-width="1.4"/>
<line x1="50.4" y1="376.60" x2="46.199999999999996" y2="376.60" stroke="#1c1c1c" stroke-width="1.4"/>
<line x1="50.4" y1="338.80" x2="46.199999999999996" y2="338.80" stroke="#1c1c1c" stroke-width="1.4"/>
<line x1="50.4" y1="433.30" x2="48.0" y2="433.30" stroke="#1c1c1c" stroke-width="1.3"/>
<line x1="50.4" y1="395.50" x2="48.0" y2="395.50" stroke="#1c1c1c" stroke-width="1.3"/>
<line x1="50.4" y1="357.70" x2="48.0" y2="357.70" stroke="#1c1c1c" stroke-width="1.3"/>
<line x1="50.4" y1="319.90" x2="48.0" y2="319.90" stroke="#1c1c1c" stroke-width="1.3"/>
<text transform="translate(50.40,13.3) scale(0.92,1)" text-anchor="middle" font-family="Liberation Sans, sans-serif" font-weight="bold" font-size="18.2">0</text>
<text transform="translate(107.60,13.3) scale(0.92,1)" text-anchor="middle" font-family="Liberation Sans, sans-serif" font-weight="bold" font-size="18.2">20</text>
<text transform="translate(164.80,13.3) scale(0.92,1)" text-anchor="middle" font-family="Liberation Sans, sans-serif" font-weight="bold" font-size="18.2">40</text>
<text transform="translate(222.00,13.3) scale(0.92,1)" text-anchor="middle" font-family="Liberation Sans, sans-serif" font-weight="bold" font-size="18.2">60</text>
<text transform="translate(279.20,13.3) scale(0.92,1)" text-anchor="middle" font-family="Liberation Sans, sans-serif" font-weight="bold" font-size="18.2">80</text>
<text transform="translate(336.40,13.3) scale(0.92,1)" text-anchor="middle" font-family="Liberation Sans, sans-serif" font-weight="bold" font-size="18.2">100</text>
<text transform="translate(50.40,471.3) scale(0.92,1)" text-anchor="middle" font-family="Liberation Sans, sans-serif" font-weight="bold" font-size="18.2">60</text>
<text transform="translate(107.60,471.3) scale(0.92,1)" text-anchor="middle" font-family="Liberation Sans, sans-serif" font-weight="bold" font-size="18.2">80</text>
<text transform="translate(164.80,471.3) scale(0.92,1)" text-anchor="middle" font-family="Liberation Sans, sans-serif" font-weight="bold" font-size="18.2">100</text>
<text transform="translate(222.00,471.3) scale(0.92,1)" text-anchor="middle" font-family="Liberation Sans, sans-serif" font-weight="bold" font-size="18.2">120</text>
<text transform="translate(279.20,471.3) scale(0.92,1)" text-anchor="middle" font-family="Liberation Sans, sans-serif" font-weight="bold" font-size="18.2">140</text>
<text transform="translate(336.40,471.3) scale(0.92,1)" text-anchor="middle" font-family="Liberation Sans, sans-serif" font-weight="bold" font-size="18.2">160</text>
<text transform="translate(43.9,169.1) scale(0.92,1)" text-anchor="end" font-family="Liberation Sans, sans-serif" font-weight="bold" font-size="18.2">0</text>
<text transform="translate(43.9,129.2) scale(0.92,1)" text-anchor="end" font-family="Liberation Sans, sans-serif" font-weight="bold" font-size="18.2">25</text>
<text transform="translate(43.9,89.60000000000001) scale(0.92,1)" text-anchor="end" font-family="Liberation Sans, sans-serif" font-weight="bold" font-size="18.2">50</text>
<text transform="translate(43.9,49.300000000000004) scale(0.92,1)" text-anchor="end" font-family="Liberation Sans, sans-serif" font-weight="bold" font-size="18.2">75</text>
<text transform="translate(43.9,311.59999999999997) scale(0.92,1)" text-anchor="end" font-family="Liberation Sans, sans-serif" font-weight="bold" font-size="18.2">0</text>
<text transform="translate(43.9,272.2) scale(0.92,1)" text-anchor="end" font-family="Liberation Sans, sans-serif" font-weight="bold" font-size="18.2">25</text>
<text transform="translate(43.9,232.29999999999998) scale(0.92,1)" text-anchor="end" font-family="Liberation Sans, sans-serif" font-weight="bold" font-size="18.2">50</text>
<text transform="translate(43.9,192.7) scale(0.92,1)" text-anchor="end" font-family="Liberation Sans, sans-serif" font-weight="bold" font-size="18.2">75</text>
<text transform="translate(44.9,455.59999999999997) scale(0.92,1)" text-anchor="end" font-family="Liberation Sans, sans-serif" font-weight="bold" font-size="18.2">0.0</text>
<text transform="translate(44.9,418.9) scale(0.92,1)" text-anchor="end" font-family="Liberation Sans, sans-serif" font-weight="bold" font-size="18.2">0.5</text>
<text transform="translate(44.9,381.9) scale(0.92,1)" text-anchor="end" font-family="Liberation Sans, sans-serif" font-weight="bold" font-size="18.2">1.0</text>
<text transform="translate(44.9,343.9) scale(0.92,1)" text-anchor="end" font-family="Liberation Sans, sans-serif" font-weight="bold" font-size="18.2">1.5</text>
<text transform="translate(177.3,487.6) scale(0.87,1)" text-anchor="middle" font-family="Liberation Sans, sans-serif" font-weight="bold" font-size="19.5">diameter (nm)</text>
<text x="330.8" y="43.3" text-anchor="end" font-family="Liberation Sans, sans-serif" font-size="18"><tspan font-weight="bold">a</tspan><tspan font-size="18">)</tspan></text>
<text x="329.6" y="186.9" text-anchor="end" font-family="Liberation Sans, sans-serif" font-size="18"><tspan font-weight="bold">b</tspan><tspan font-size="16.8">)</tspan></text>
<text x="330.4" y="328.9" text-anchor="end" font-family="Liberation Sans, sans-serif" font-size="18"><tspan font-weight="bold">c</tspan><tspan font-size="18">)</tspan></text>
<g transform="translate(18.3,284.6) rotate(-90)"><text x="0" y="0" font-family="Liberation Sans, sans-serif" font-size="18.4" font-weight="bold">#NPs/</text><text transform="translate(53.0,0) scale(0.8,1)" font-family="Liberation Sans, sans-serif" font-size="18">µ</text><text transform="translate(63.4,0) scale(0.84,1)" font-family="Liberation Sans, sans-serif" font-size="18" font-weight="bold">m</text><text transform="translate(76.0,-7.5) scale(0.8,1)" font-family="Liberation Sans, sans-serif" font-size="12" font-weight="bold">2</text></g>
</svg>
</body></html>
